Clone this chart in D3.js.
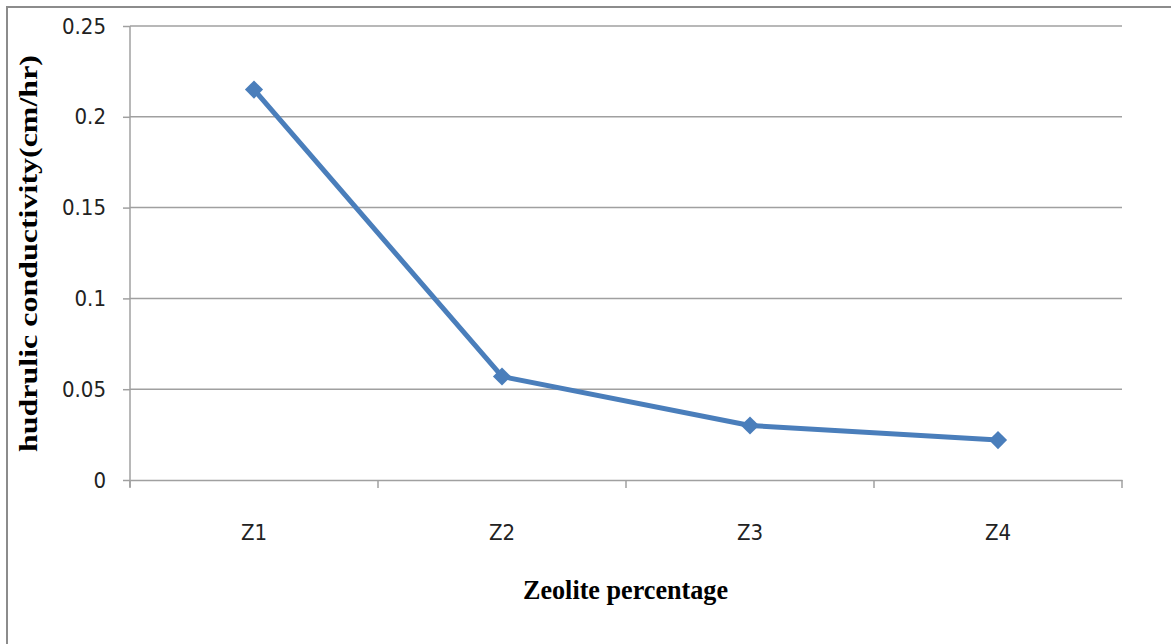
<!DOCTYPE html>
<html><head><meta charset="utf-8">
<script src="https://cdn.jsdelivr.net/npm/d3@7"></script>
<style>body{margin:0;background:#fff}svg{display:block}</style>
</head><body>
<svg id="c" width="1171" height="644"></svg>
<script>
const categories = ["Z1","Z2","Z3","Z4"];
const values = [0.215, 0.057, 0.030, 0.022];
const yTicks = [0, 0.05, 0.1, 0.15, 0.2, 0.25];
const yTickLabels = ["0","0.05","0.1","0.15","0.2","0.25"];
const xTitle = "Zeolite percentage";
const yTitle = "hudrulic conductivity(cm/hr)";

const svg = d3.select("#c");
const m = {l:130, r:1122, t:26, b:480};
const x = d3.scaleBand().domain(categories).range([m.l, m.r]);
const y = d3.scaleLinear().domain([0,0.25]).range([m.b, m.t]);
const tickFont = "'DejaVu Sans Condensed','DejaVu Sans',sans-serif";

// frame
svg.append("path").attr("d","M7,644V7H1171").attr("fill","none").attr("stroke","#8c8c8c").attr("stroke-width",2);

// gridlines
svg.append("g").selectAll("line").data(yTicks.slice(1)).join("line")
  .attr("x1",m.l).attr("x2",m.r).attr("y1",d=>y(d)).attr("y2",d=>y(d))
  .attr("stroke","#a0a0a0").attr("stroke-width",1.5);

// y axis
const ya = svg.append("g").attr("transform",`translate(${m.l},0)`)
  .call(d3.axisLeft(y).tickValues(yTicks).tickFormat((d,i)=>yTickLabels[i]).tickSize(7).tickPadding(17));
ya.select(".domain").attr("d",`M0,${m.t}V${m.b+7}`).attr("stroke","#a0a0a0").attr("stroke-width",1.5);
ya.selectAll(".tick line").attr("stroke","#a0a0a0").attr("stroke-width",1.5);
ya.selectAll("text").attr("font-family",tickFont).attr("font-size",22).attr("fill","#222");

// x axis
const xa = svg.append("g").attr("transform",`translate(0,${m.b})`)
  .call(d3.axisBottom(x).tickSize(0).tickPadding(44));
xa.select(".domain").attr("stroke","#a0a0a0").attr("stroke-width",1.5);
xa.selectAll("text").attr("font-family",tickFont).attr("font-size",22).attr("fill","#222");
const bounds = categories.map(c=>x(c)).concat([m.r]);
svg.append("g").selectAll("line").data(bounds).join("line")
  .attr("x1",d=>d).attr("x2",d=>d).attr("y1",m.b).attr("y2",m.b+8)
  .attr("stroke","#a0a0a0").attr("stroke-width",1.5);

// line
const cx = c=>x(c)+x.bandwidth()/2;
svg.append("path").datum(values)
  .attr("d", d3.line().x((d,i)=>cx(categories[i])).y(d=>y(d)))
  .attr("fill","none").attr("stroke","#4a7ebb").attr("stroke-width",5).attr("stroke-linejoin","round");
svg.append("g").selectAll("path").data(values).join("path")
  .attr("d", d3.symbol(d3.symbolSquare, 165))
  .attr("transform",(d,i)=>`translate(${cx(categories[i])},${y(d)}) rotate(45)`)
  .attr("fill","#4a7ebb");

// titles
svg.append("text").attr("x",523).attr("y",599)
  .attr("font-family","'Liberation Serif','Times New Roman',serif").attr("font-weight","bold")
  .attr("font-size",27).attr("fill","#000")
  .attr("textLength",205).attr("lengthAdjust","spacingAndGlyphs").text(xTitle);
svg.append("text").attr("transform","translate(37,452) rotate(-90)")
  .attr("font-family","'Liberation Serif','Times New Roman',serif").attr("font-weight","bold")
  .attr("font-size",26).attr("fill","#000")
  .attr("textLength",397).attr("lengthAdjust","spacingAndGlyphs").text(yTitle);
</script>
</body></html>
